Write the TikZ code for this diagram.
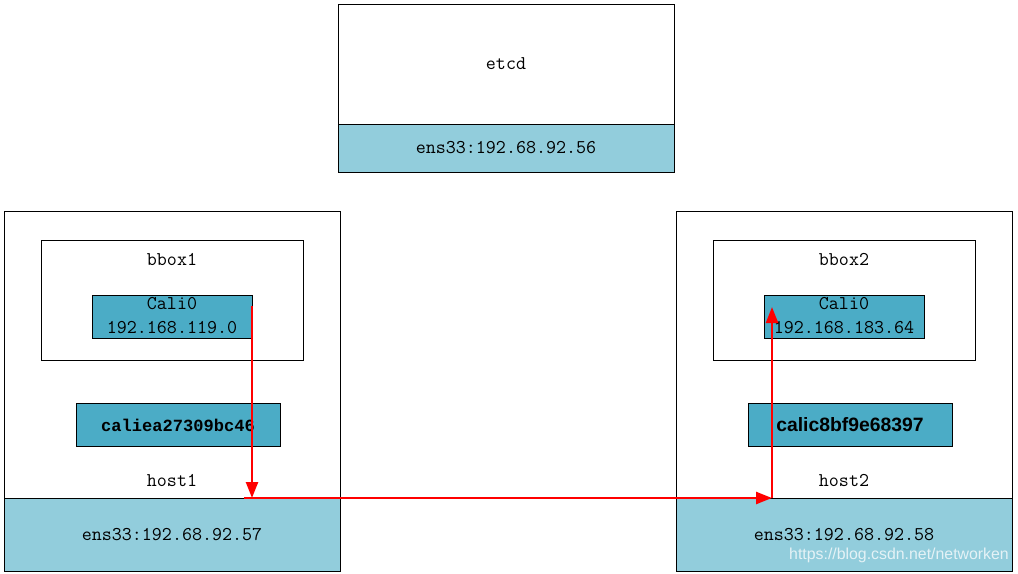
\documentclass[tikz,border=0pt]{standalone}
\usepackage{fontspec}
\newfontfamily\lmono{Liberation Mono}
\newfontfamily\lsans{Liberation Sans}
\usetikzlibrary{arrows.meta}
\definecolor{bandblue}{HTML}{92CDDC}
\definecolor{ifblue}{HTML}{4BACC6}
\definecolor{wm}{HTML}{E4F2F6}
\tikzset{
  box/.style={draw=black, line width=0.75pt, anchor=north west, inner sep=0pt, fill=white},
  band/.style={box, fill=bandblue},
  ifbox/.style={box, fill=ifblue},
  txt/.style={font=\ttfamily\fontsize{14.6}{18}\selectfont, inner sep=0pt, align=center},
  flow/.style={draw=red, line width=1.8pt, -{Triangle[length=12pt, width=9pt]}}
}
\begin{document}
\begin{tikzpicture}[x=0.75pt, y=-0.75pt]
\useasboundingbox (0,0) rectangle (1018,574);
% etcd
\node[box, minimum width=252pt, minimum height=90pt] (etcd) at (338,4) {};
\node[band, minimum width=252pt, minimum height=36pt] (etcdband) at (338,124) {};
\node[txt] (etcdlbl) at (506,64) {etcd};
\node[txt] (etcdip) at (506,148) {ens33:192.68.92.56};
% host1
\node[box, minimum width=252pt, minimum height=215.25pt] (host1) at (4,211) {};
\node[band, minimum width=252pt, minimum height=54.75pt] (band1) at (4,498) {};
\node[box, minimum width=196.5pt, minimum height=90pt] (bbox1) at (41,240) {};
\node[ifbox, minimum width=120pt, minimum height=32.25pt] (cali1) at (92,295) {};
\node[ifbox, minimum width=153pt, minimum height=32.25pt] (veth1) at (76,403) {};
\node[txt] (bbox1lbl) at (172,259) {bbox1};
\node[txt] (cali1lbl) at (172,316) {Cali0\\192.168.119.0};
\node[inner sep=0pt, font=\lmono\bfseries\fontsize{12.8}{15}\selectfont] (veth1lbl) at (178,425) {caliea27309bc46};
\node[txt] (host1lbl) at (172,480) {host1};
\node[txt] (ip1) at (172,535) {ens33:192.68.92.57};
% host2
\node[box, minimum width=252pt, minimum height=215.25pt] (host2) at (676,211) {};
\node[band, minimum width=252pt, minimum height=54.75pt] (band2) at (676,498) {};
\node[box, minimum width=196.5pt, minimum height=90pt] (bbox2) at (713,240) {};
\node[ifbox, minimum width=120pt, minimum height=32.25pt] (cali2) at (764,295) {};
\node[ifbox, minimum width=153pt, minimum height=32.25pt] (veth2) at (748,403) {};
\node[txt] (bbox2lbl) at (844,259) {bbox2};
\node[txt] (cali2lbl) at (844,316) {Cali0\\192.168.183.64};
\node[inner sep=0pt, font=\lsans\bfseries\fontsize{14.5}{16}\selectfont] (veth2lbl) at (850,425) {calic8bf9e68397};
\node[txt] (host2lbl) at (844,480) {host2};
\node[txt] (ip2) at (844,535) {ens33:192.68.92.58};
\node[inner sep=0pt, text=wm, font=\lsans\fontsize{11.9}{14}\selectfont] (wmark) at (899,555) {https://blog.csdn.net/networken};
% flow
\coordinate (a1) at (252,306);
\coordinate (a2) at (252,498);
\coordinate (b1) at (244,498);
\coordinate (b2) at (772,498);
\coordinate (c2) at (772,307);
\draw[flow] (a1) -- (a2);
\draw[flow] (b1) -- (b2);
\draw[flow] (b2) -- (c2);
\end{tikzpicture}
\end{document}
